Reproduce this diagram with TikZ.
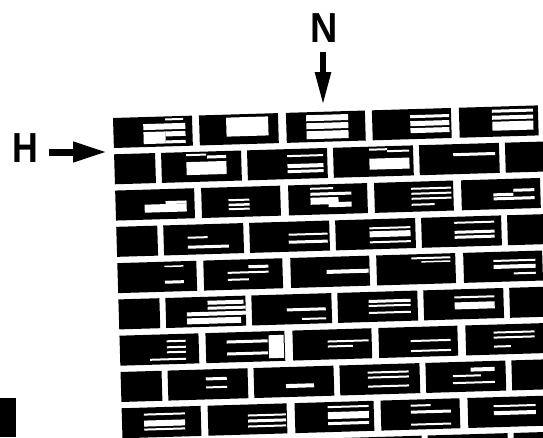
\documentclass[tikz,border=0pt]{standalone}
\usepackage{fontspec}
\usepackage{graphicx}
\setmainfont{Liberation Sans}
\usetikzlibrary{arrows.meta}
\tikzset{
  brickfill/.style={fill=black},
  whitebar/.style={fill=white},
  letter/.style={inner sep=0pt, font=\fontsize{42}{42}\selectfont\bfseries},
  fatarrow/.style={draw=black, line width=#1, -{Triangle[length=34pt,width=19pt]}},
}
\newcommand\brk[4]{%
  \pgfmathsetmacro\ry{(#2-1)*36.3}%
  \fill[brickfill] (#1,\ry) rectangle ++(#3,30);
  \foreach \a/\b/\c/\d in {#4}{\fill[whitebar] ({#1+\a},{\ry+\b}) rectangle ({#1+\c},{\ry+\d});}%
}
\newcommand\brkp[3]{%
  \pgfmathsetmacro\ry{(#2-1)*36.3}%
  \fill[brickfill] (#1,\ry) rectangle ++(#3,30);%
}
\begin{document}
\begin{tikzpicture}[x=1pt,y=-1pt]
\useasboundingbox (0,0) rectangle (543,437);
\clip (0,0) rectangle (543,437);
\fill[white] (0,0) rectangle (543,437);

% labels and arrows
\node[letter] (H) at (25.5,148) {\scalebox{0.85}[1]{H}};
\coordinate (htip) at (107,152);
\draw[fatarrow=7pt] ([shift={(10,4)}]H.east) -- (htip);

\node[letter] (N) at (324.5,28) {\scalebox{0.9}[1]{N}};
\coordinate (ntip) at (323,105);
\draw[draw=black, line width=5.5pt, -{Triangle[length=33pt,width=15pt]}] ([shift={(-1.5,9)}]N.south) -- (ntip);

% black block bottom left
\fill[black] (0,398) rectangle (16,437);

% the wall
\begin{scope}[shift={(113,118)}, rotate=1.7]
% row 1
\brk{0}{1}{79}{52/2/70/4, 30/7/72/13, 30/15/52/27, 52/15/72/20, 52/24/72/27}
\brk{86}{1}{79}{27/3/69/22}
\brk{173}{1}{79}{20/3/62/9, 20/11/62/17, 20/19/62/27}
\brk{259}{1}{79}{38/6/77/9, 38/12/77/17, 38/19/77/24}
\brk{346}{1}{79}{33/3/74/6, 33/9/74/13, 33/15/74/24}
% row 2
\brkp{0}{2}{41}
\brk{47}{2}{80}{25/2/45/4, 46/4/65/7, 25/10/65/23}
\brk{133}{2}{80}{40/6/76/8, 40/15/76/19, 40/21/76/24}
\brk{219}{2}{80}{36/2/54/4, 54/4/76/6, 36/12/76/23}
\brk{305}{2}{80}{34/9/76/12}
\brkp{391}{2}{80}
% row 3
\brk{0}{3}{79}{50/12/71/15, 29/15/71/23}
\brk{86}{3}{79}{27/12/48/14, 27/16.5/48/19, 27/21/48/23}
\brk{173}{3}{79}{22/3/45/5, 22/8/63/11, 22/13/50/20, 40/18/63/23}
\brk{259}{3}{79}{37/6/77/8, 37/11/77/13, 37/16/77/18, 37/22/60/24}
\brk{346}{3}{79}{52/10/73/13, 32/14/52/17, 32/18/73/21}
% row 4
\brkp{0}{4}{41}
\brk{47}{4}{80}{24/12/44/14, 24/21/65/24}
\brk{133}{4}{80}{39/12/78/14, 39/19/78/22}
\brk{219}{4}{80}{34/8/75/10, 34/12/75/18, 34/22/75/24}
\brk{305}{4}{80}{33/5/73/7, 33/14/73/17, 33/19/73/22}
\brkp{391}{4}{80}
% row 5
\brk{0}{5}{79}{47/4/66/5.5, 47/19/66/22}
\brk{86}{5}{79}{45/6/65/9, 24/12/65/14, 24/19/45/21}
\brk{173}{5}{79}{36/13/78/17}
\brk{259}{5}{79}{35/3/74/5, 45/7/74/8.5}
\brk{346}{5}{79}{30/8/72/10, 30/13/72/17, 50/21/72/23}
% row 6
\brkp{0}{6}{41}
\brk{47}{6}{80}{42/4/78/8, 42/10/80/13, 21/15/80/19, 21/21/75/27}
\brk{133}{6}{80}{35/14/74/17, 50/24/74/26}
\brk{219}{6}{80}{31/8/73/11, 31/13/73/15, 31/20/73/22}
\brk{305}{6}{80}{31/7/71/9, 31/13/71/20}
\brkp{391}{6}{80}
% row 7
\brk{0}{7}{79}{47/6/66/8, 47/12/66/14, 47/17/66/19, 30/24/66/26}
\brk{86}{7}{79}{21/8/62/11, 21/20/62/23, 63/4/78/27}
\brk{173}{7}{79}{35/11/76/13, 35/16/60/18}
\brk{259}{7}{79}{32/13/72/15, 32/23/72/25}
\brk{346}{7}{79}{28/7/69/9, 28/12/69/14, 28/21/45/23}
% row 8
\brkp{0}{8}{41}
\brk{47}{8}{80}{38/8/59/11, 38/17/59/19}
\brk{133}{8}{80}{32/17/60/21}
\brk{219}{8}{80}{28/7/69/9, 28/12/69/14, 28/21/69/23}
\brk{305}{8}{80}{45/6/69/10, 27/13/55/15, 27/20/69/22}
\brkp{391}{8}{80}
% row 9
\brk{0}{9}{79}{22/6/63/8, 22/13/63/19, 22/21/63/23}
\brk{86}{9}{79}{40/10/78/12, 40/15/78/18, 40/21/78/23}
\brk{173}{9}{79}{33/4/74/6, 33/10/74/17, 33/20/74/23}
\brk{259}{9}{79}{30/5/50/7, 30/11/70/14, 30/24/70/26}
\brk{346}{9}{79}{26/8/68/10, 26/14/68/18}
% row 10 (mostly cut off)
\brkp{0}{10}{41}
\brkp{47}{10}{80}
\brkp{133}{10}{80}
\brkp{219}{10}{80}
\brkp{305}{10}{80}
\brkp{391}{10}{80}
\end{scope}
\end{tikzpicture}
\end{document}
